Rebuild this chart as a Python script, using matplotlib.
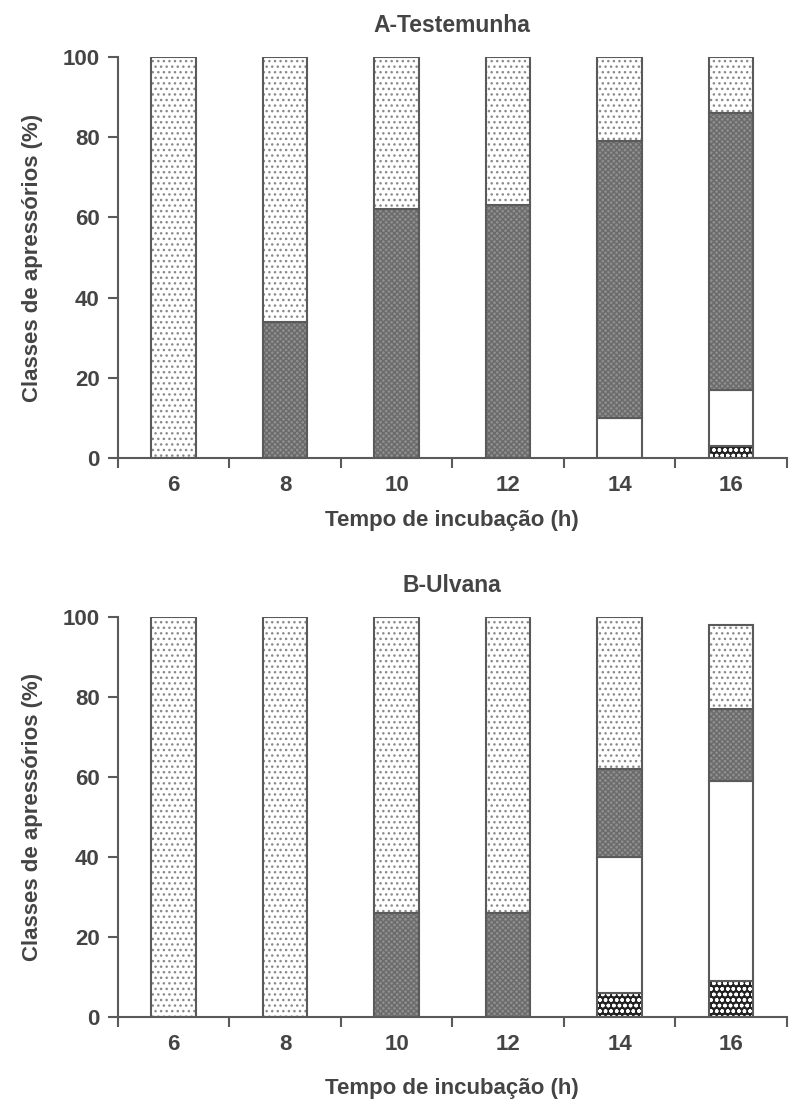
import numpy as np
import matplotlib
matplotlib.use('Agg')
import matplotlib.pyplot as plt

plt.rcParams['font.family'] = ['Liberation Sans', 'DejaVu Sans']
plt.rcParams['font.weight'] = 'bold'
plt.rcParams['hatch.linewidth'] = 1.0

horas = ['6', '8', '10', '12', '14', '16']

# A - Testemunha (bottom to top: dark dots, white, gray, light dots)
a_escuro = [0, 0, 0, 0, 0, 3]
a_branco = [0, 0, 0, 0, 10, 14]
a_cinza = [0, 34, 62, 63, 69, 69]
a_pontos = [100, 66, 38, 37, 21, 14]

# B - Ulvana
b_escuro = [0, 0, 0, 0, 6, 9]
b_branco = [0, 0, 0, 0, 34, 50]
b_cinza = [0, 0, 26, 26, 22, 18]
b_pontos = [100, 100, 74, 74, 38, 21]

cor_txt = '#444444'
cor_borda = '#5a5a5a'

estilos = [
    dict(facecolor='#222222', hatch='ooo', hatchcor='white'),
    dict(facecolor='white', hatch=None, hatchcor='white'),
    dict(facecolor='#8e8e8e', hatch='xxxxxx', hatchcor='#6a6a6a'),
    dict(facecolor='white', hatch='...', hatchcor='#8a8a8a'),
]


def painel(ax, series, titulo):
    x = np.arange(len(horas))
    w = 0.4
    base = np.zeros(len(horas))
    for vals, st in zip(series, estilos):
        vals = np.array(vals, dtype=float)
        m = vals > 0
        ax.bar(x[m], vals[m], w, bottom=base[m], color=st['facecolor'],
               hatch=st['hatch'], edgecolor=st['hatchcor'], linewidth=0)
        ax.bar(x[m], vals[m], w, bottom=base[m], fill=False,
               edgecolor=cor_borda, linewidth=1.5)
        base += vals
    ax.set_xlim(-0.5, 5.5)
    ax.set_ylim(0, 100)
    ax.set_yticks([0, 20, 40, 60, 80, 100])
    ax.set_xticks(x)
    ax.set_xticklabels(horas)
    ax.set_xticks(np.arange(-0.5, 6, 1), minor=True)
    ax.tick_params(axis='x', which='major', length=0, pad=12,
                   labelsize=16, labelcolor=cor_txt)
    ax.tick_params(axis='x', which='minor', length=7, width=1.5,
                   color=cor_borda, direction='out')
    ax.tick_params(axis='y', length=7, width=1.5, color=cor_borda,
                   labelsize=16, labelcolor=cor_txt, pad=6)
    for s in ['top', 'right']:
        ax.spines[s].set_visible(False)
    for s in ['left', 'bottom']:
        ax.spines[s].set_color(cor_borda)
        ax.spines[s].set_linewidth(1.5)
    ax.set_title(titulo, fontsize=16.5, fontweight='bold', color=cor_txt, pad=18)
    ax.set_ylabel('Classes de apressórios (%)', fontsize=16,
                  fontweight='bold', color=cor_txt, labelpad=14)
    ax.set_xlabel('Tempo de incubação (h)', fontsize=16,
                  fontweight='bold', color=cor_txt, labelpad=10)


fig = plt.figure(figsize=(8.02, 11), dpi=100)
ax1 = fig.add_axes([0.147, 0.5836, 0.834, 0.3646])
ax2 = fig.add_axes([0.147, 0.0755, 0.834, 0.3636])

painel(ax1, [a_escuro, a_branco, a_cinza, a_pontos], 'A-Testemunha')
painel(ax2, [b_escuro, b_branco, b_cinza, b_pontos], 'B-Ulvana')
ax2.xaxis.labelpad = 17

fig.savefig('out.png', dpi=100)
